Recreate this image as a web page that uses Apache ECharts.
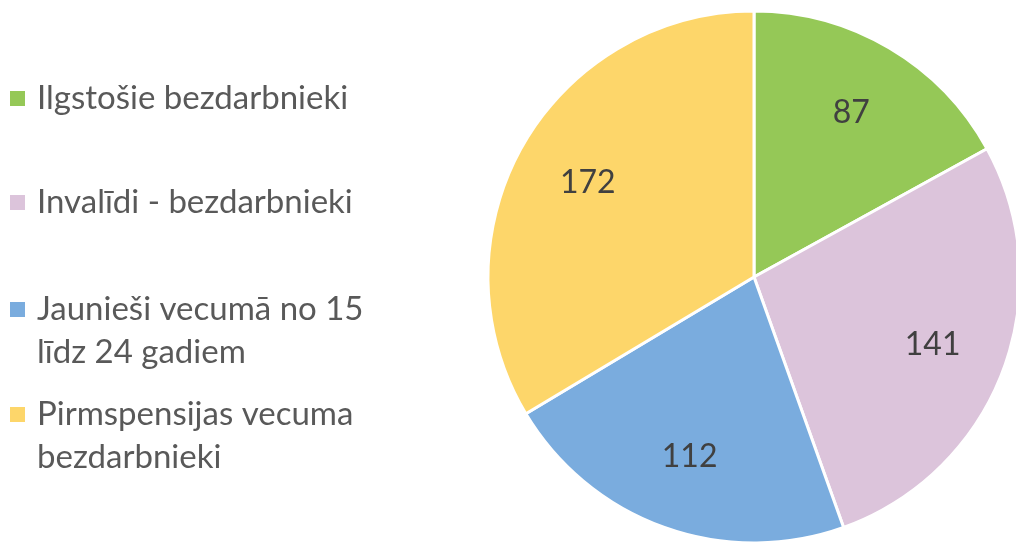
<!DOCTYPE html>
<html>
<head>
<meta charset="utf-8">
<script src="https://cdn.jsdelivr.net/npm/echarts@6/dist/echarts.min.js"></script>
<style>
  html, body { margin: 0; padding: 0; background: #fff; }
  #chart { width: 1016px; height: 542px; }
</style>
</head>
<body>
<div id="chart"></div>
<script>
'use strict';
// categories and values
var categories = [
  'Ilgstošie bezdarbnieki',
  'Invalīdi - bezdarbnieki',
  'Jaunieši vecumā no 15 līdz 24 gadiem',
  'Pirmspensijas vecuma bezdarbnieki'
];
var legendText = [
  'Ilgstošie bezdarbnieki',
  'Invalīdi - bezdarbnieki',
  'Jaunieši vecumā no 15\nlīdz 24 gadiem',
  'Pirmspensijas vecuma\nbezdarbnieki'
];
var values = [87, 141, 112, 172];
var colors = ['#95C857', '#DCC4DB', '#7AACDE', '#FDD66A'];

var fontFamily = 'Lato, "Open Sans", sans-serif';
var lineH = 43;
var sqSize = 15;
var legendTops = [72, 176, 283, 388];

var pieData = categories.map(function (name, i) {
  return { name: name, value: values[i], itemStyle: { color: colors[i] } };
});
var labelData = categories.map(function (name, i) {
  return { name: name, value: values[i] };
});

// one legend per entry so the uneven spacing can be kept;
// for two-line entries the icon box is as tall as the text and the square sits at the first line
var legends = categories.map(function (name, i) {
  var lines = legendText[i].split('\n').length;
  var h = lines * lineH;
  var sq = (lineH - sqSize) / 2;
  var icon = lines > 1
    ? 'path://M0,' + sq + 'h' + sqSize + 'v' + sqSize + 'h-' + sqSize + 'zM0,0h0.01v0.01h-0.01zM0,' + h + 'h0.01v0.01h-0.01z'
    : 'rect';
  return {
    orient: 'vertical',
    left: 5,
    top: legendTops[i],
    icon: icon,
    itemWidth: sqSize,
    itemHeight: lines > 1 ? h : sqSize,
    itemStyle: { borderWidth: 0, borderColor: 'rgba(0,0,0,0)' },
    selectedMode: false,
    data: [name],
    formatter: function () { return legendText[i]; },
    textStyle: {
      fontFamily: fontFamily,
      fontSize: 33,
      color: '#595959',
      lineHeight: lineH,
      padding: [0, 0, 0, 7]
    }
  };
});

var chart = echarts.init(document.getElementById('chart'));
chart.setOption({
  animation: false,
  legend: legends,
  series: [
    {
      type: 'pie',
      center: [754, 277],
      radius: [0, 266],
      startAngle: 90,
      clockwise: true,
      silent: true,
      label: { show: false },
      labelLine: { show: false },
      itemStyle: { borderColor: '#fff', borderWidth: 3 },
      data: pieData
    },
    {
      // transparent ring only to place the value labels further out
      type: 'pie',
      center: [754, 277],
      radius: [110, 266],
      startAngle: 90,
      clockwise: true,
      silent: true,
      itemStyle: { color: 'rgba(0,0,0,0)', borderWidth: 0 },
      label: {
        show: true,
        position: 'inside',
        formatter: '{c}',
        fontFamily: fontFamily,
        fontSize: 32,
        color: '#404040'
      },
      labelLine: { show: false },
      data: labelData
    }
  ]
});
window.addEventListener('resize', function () {
  chart.resize();
});
</script>
</body>
</html>
